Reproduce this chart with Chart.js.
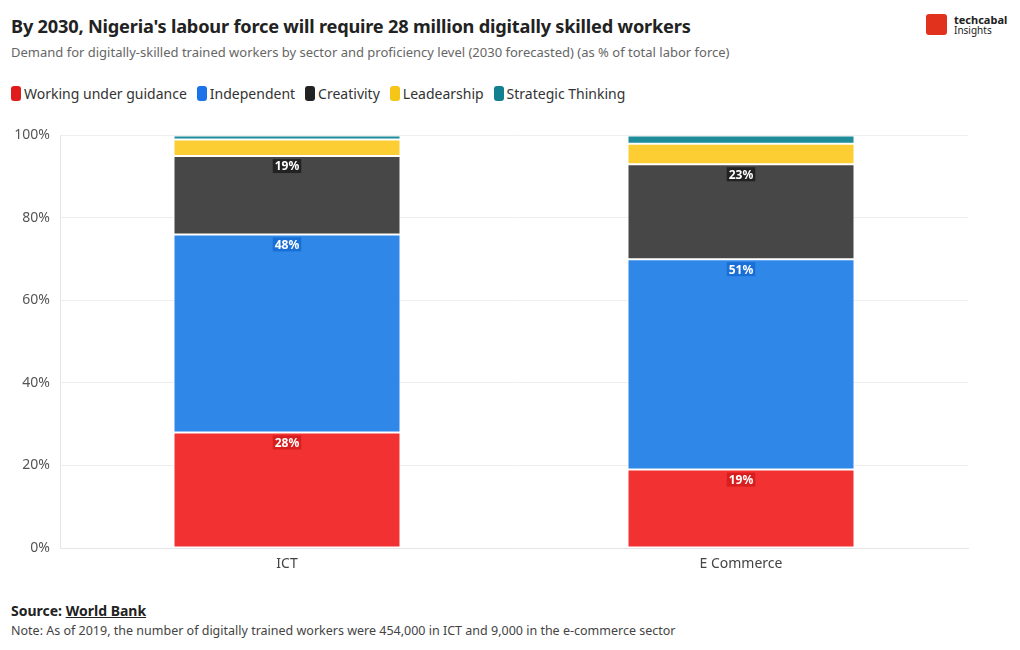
<!DOCTYPE html>
<html>
<head>
<meta charset="utf-8">
<script src="https://cdn.jsdelivr.net/npm/chart.js"></script>
<style>
  body { margin: 0; background: #fff; font-family: "Noto Sans", Roboto, sans-serif; color: #333; }
  #page { position: relative; width: 1020px; height: 650px; overflow: hidden; }
  .title { position: absolute; left: 11px; top: 14px; font-size: 18.2px; font-weight: 700; color: #222; letter-spacing: -0.2px; }
  .subtitle { position: absolute; left: 11px; top: 43px; font-size: 13px; color: #666; }
  .legend { position: absolute; left: 11px; top: 84px; font-size: 14px; color: #333; display: flex; }
  .legend span.item { display: flex; align-items: center; margin-right: 10px; }
  .legend i { display: inline-block; width: 10px; height: 15px; border-radius: 3px; margin-right: 3px; }
  .logo { position: absolute; left: 926px; top: 14px; display: flex; align-items: center; }
  .logo .mark { width: 21px; height: 21px; background: #e0321c; border-radius: 3px; margin-right: 7px; }
  .logo .txt { font-size: 10px; line-height: 10px; color: #222; }
  .logo .txt b { font-size: 11px; }
  #wrap { position: absolute; left: 0; top: 117px; width: 980px; height: 468px; }
  .source { position: absolute; left: 11px; top: 601px; font-size: 14px; font-weight: 700; color: #222; }
  .source u { font-weight: 700; }
  .note { position: absolute; left: 11px; top: 622px; font-size: 12.5px; color: #444; }
</style>
</head>
<body>
<div id="page">
  <div class="title">By 2030, Nigeria's labour force will require 28 million digitally skilled workers</div>
  <div class="subtitle">Demand for digitally-skilled trained workers by sector and proficiency level (2030 forecasted) (as % of total labor force)</div>
  <div class="legend" id="legend"></div>
  <div class="logo"><div class="mark"></div><div class="txt"><b>techcabal</b><br>Insights</div></div>
  <div id="wrap"><canvas id="chart"></canvas></div>
  <div class="source">Source: <u>World Bank</u></div>
  <div class="note">Note: As of 2019, the number of digitally trained workers were 454,000 in ICT and 9,000 in the e-commerce sector</div>
</div>
<script>
// data
var sectors = ['ICT', 'E Commerce'];
var seriesNames = ['Working under guidance', 'Independent', 'Creativity', 'Leadearship', 'Strategic Thinking'];
var guidance = [28, 19];
var independent = [48, 51];
var creativity = [19, 23];
var leadership = [4, 5];
var strategic = [1, 2];
var yTicks = [0, 20, 40, 60, 80, 100];

var barColors = ['#f23232', '#2f87e8', '#474747', '#fdcd34', '#1f8c99'];
var legendColors = ['#e01b1b', '#1a73e8', '#222222', '#f5c518', '#12808e'];
var labelBg = ['#d81e1e', '#1a6fd6', '#222222', null, null];
var showLabel = [true, true, true, false, false];

var legendEl = document.getElementById('legend');
seriesNames.forEach(function(n, i) {
  legendEl.innerHTML += '<span class="item"><i style="background:' + legendColors[i] + '"></i>' + n + '</span>';
});

var values = [guidance, independent, creativity, leadership, strategic];
var datasets = values.map(function(v, i) {
  return {
    label: seriesNames[i],
    data: v,
    backgroundColor: barColors[i],
    borderColor: '#ffffff',
    borderWidth: 1,
    borderSkipped: false
  };
});

// draw value labels near the top of each segment
var segLabels = {
  id: 'segLabels',
  afterDatasetsDraw: function(chart) {
    var ctx = chart.ctx;
    ctx.save();
    ctx.font = 'bold 12px "Noto Sans", sans-serif';
    ctx.textAlign = 'center';
    ctx.textBaseline = 'middle';
    chart.data.datasets.forEach(function(ds, i) {
      if (!showLabel[i]) return;
      chart.getDatasetMeta(i).data.forEach(function(bar, j) {
        var txt = ds.data[j] + '%';
        var w = ctx.measureText(txt).width + 4;
        var y = bar.y + 10;
        ctx.fillStyle = labelBg[i];
        ctx.fillRect(bar.x - w / 2, y - 7, w, 14);
        ctx.fillStyle = '#ffffff';
        ctx.fillText(txt, bar.x, y + 1);
      });
    });
    ctx.restore();
  }
};

new Chart(document.getElementById('chart'), {
  type: 'bar',
  data: { labels: sectors, datasets: datasets },
  plugins: [segLabels],
  options: {
    responsive: true,
    maintainAspectRatio: false,
    animation: false,
    layout: { padding: { top: 2, right: 12 } },
    plugins: { legend: { display: false }, tooltip: { enabled: false } },
    datasets: { bar: { barPercentage: 0.5, categoryPercentage: 1 } },
    scales: {
      x: {
        stacked: true,
        grid: { display: false },
        border: { color: '#e6e6e6' },
        ticks: { color: '#444', font: { size: 14, family: '"Noto Sans", sans-serif' }, padding: 0 },
        afterFit: function(s) { s.height = 37; }
      },
      y: {
        stacked: true,
        min: 0,
        max: 100,
        afterBuildTicks: function(s) { s.ticks = yTicks.map(function(v) { return { value: v }; }); },
        grid: { color: '#eeeeee', drawTicks: false },
        border: { color: '#e6e6e6' },
        ticks: {
          color: '#555',
          padding: 10,
          font: { size: 14, family: '"Noto Sans", sans-serif' },
          callback: function(v) { return v + '%'; }
        },
        afterFit: function(s) { s.width = 60; }
      }
    }
  }
});
</script>
</body>
</html>
